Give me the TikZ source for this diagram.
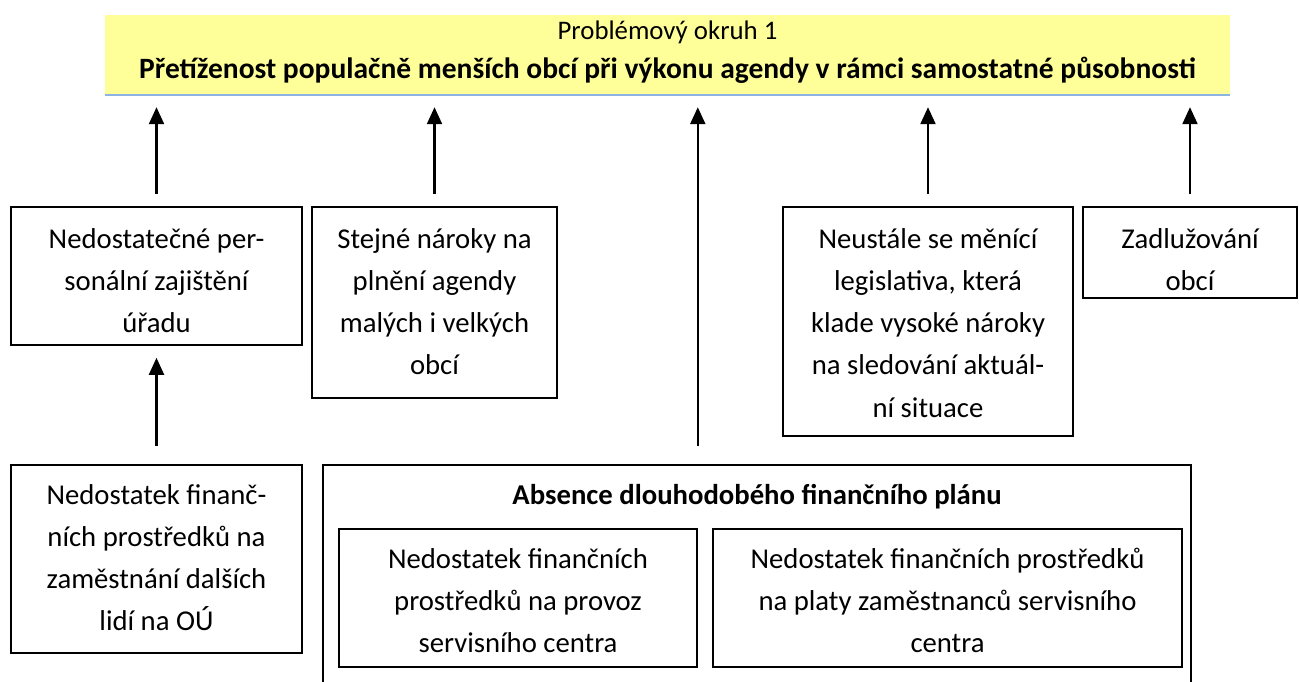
\documentclass[tikz,border=0pt]{standalone}
\usepackage{fontspec}
\setmainfont{Carlito}
\usetikzlibrary{arrows.meta}
\definecolor{bandyellow}{RGB}{255,255,153}
\definecolor{bandblue}{RGB}{141,179,226}
\newcommand{\bxt}[4][39pt]{\parbox[c][#3][t]{#2}{\centering\rule{0pt}{#1}#4\par}}
\begin{document}
\begin{tikzpicture}[x=1pt,y=-1pt,
  box/.style={draw=black, line width=1.6pt, inner sep=0pt, font=\fontsize{28.7}{42.3}\selectfont},
  arr/.style={line width=2.2pt, -{Triangle[width=15pt,length=17pt]}},
  ttl/.style={inner sep=0pt, font=\fontsize{26.8}{30}\selectfont}
]
\useasboundingbox (0,0) rectangle (1299,682);
\clip (0,0) rectangle (1299,682);

% title band
\node[fill=bandyellow, minimum width=1125pt, minimum height=80pt, inner sep=0pt] (band) at (667.5,55) {};
\draw[bandblue, line width=2pt] (band.south west) -- (band.south east);
\node[ttl] (sub) at (667.5,32) {Problémový okruh 1};
\node[ttl, font=\bfseries\fontsize{29.5}{32}\selectfont] (head) at (667.5,70) {Přetíženost populačně menších obcí při výkonu agendy v rámci samostatné působnosti};

% top row
\node[box] (b1) at (156.5,276) {\bxt[41pt]{291pt}{138pt}{Nedostatečné per-\\sonální zajištění\\úřadu}};
\node[box] (b2) at (434.5,302.5) {\bxt[41pt]{245pt}{191pt}{Stejné nároky na\\plnění agendy\\malých i velkých\\obcí}};
\node[box] (b3) at (928,321.5) {\bxt[41pt]{290pt}{229pt}{Neustále se měnící\\legislativa, která\\klade vysoké nároky\\na sledování aktuál-\\ní situace}};
\node[box] (b4) at (1190,252.5) {\bxt[41pt]{214pt}{91pt}{Zadlužování\\obcí}};

% bottom row
\node[box] (b5) at (156.5,559) {\bxt{291pt}{188pt}{Nedostatek finanč-\\ních prostředků na\\zaměstnání dalších\\lidí na OÚ}};
\node[box] (big) at (757,592.5) {\bxt{868pt}{255pt}{\bfseries Absence dlouhodobého finančního plánu}};
\node[box] (in1) at (518,598) {\bxt{358pt}{138pt}{Nedostatek finančních\\prostředků na provoz\\servisního centra}};
\node[box] (in2) at (947.5,598) {\bxt{469pt}{138pt}{Nedostatek finančních prostředků\\na platy zaměstnanců servisního\\centra}};

% arrows
\draw[arr, shorten <=12pt, shorten >=12pt] (b1.north) -- (b1.north |- band.south);
\draw[arr, shorten <=12pt, shorten >=12pt] (b2.north) -- (b2.north |- band.south);
\draw[arr, shorten <=12pt, shorten >=12pt] (b3.north) -- (b3.north |- band.south);
\draw[arr, shorten <=12pt, shorten >=12pt] (b4.north) -- (b4.north |- band.south);
\draw[arr, shorten <=18pt, shorten >=12pt] (b5.north) -- (b1.south);
\draw[arr, shorten <=18pt, shorten >=12pt] (in1.east |- big.north) -- (in1.east |- band.south);
\end{tikzpicture}
\end{document}
